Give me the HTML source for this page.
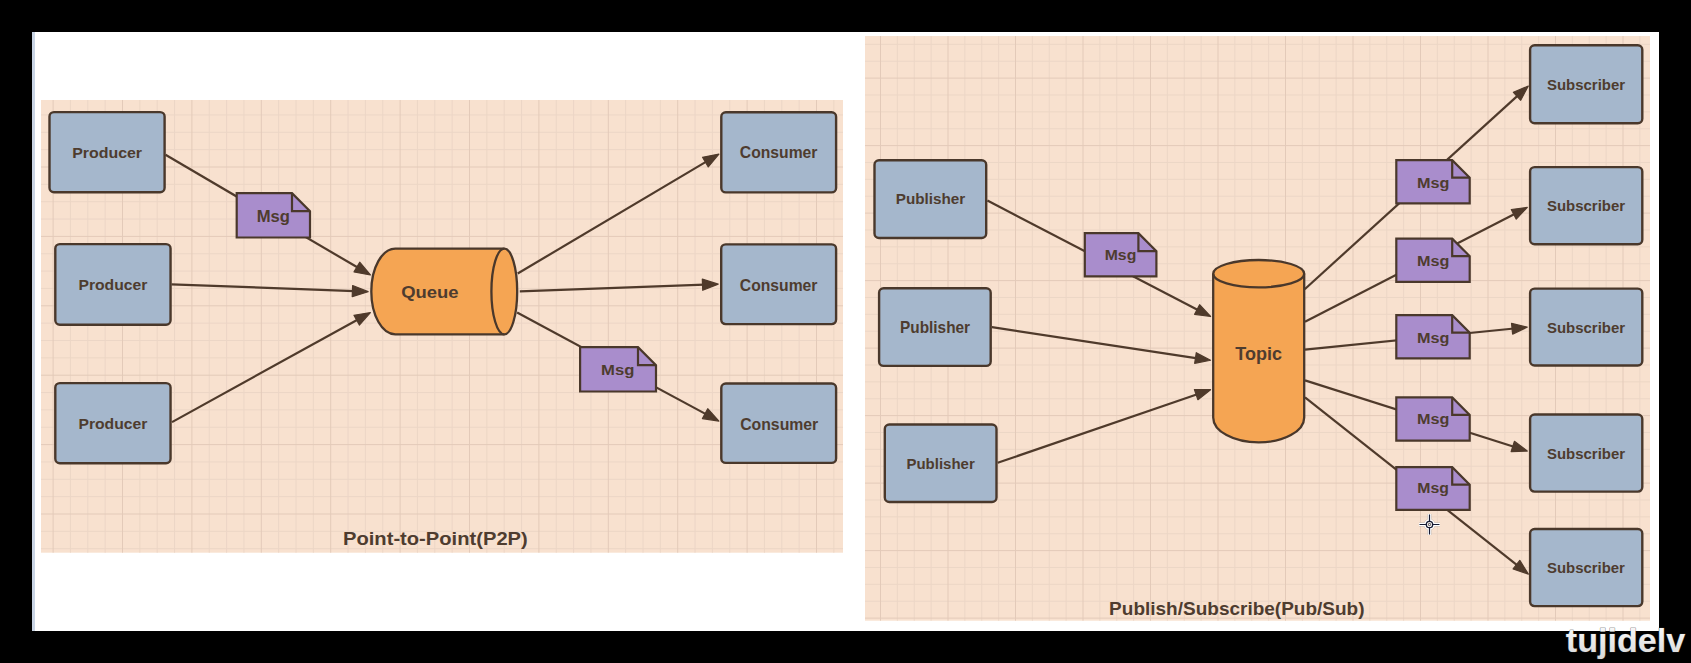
<!DOCTYPE html>
<html><head><meta charset="utf-8"><style>html,body{margin:0;padding:0;background:#000;overflow:hidden}svg{display:block}text{font-family:"Liberation Sans",sans-serif}</style></head>
<body>
<svg width="1691" height="663" viewBox="0 0 1691 663">
<rect x="0" y="0" width="1691" height="663" fill="#000"/>
<rect x="32" y="32" width="1627" height="599" fill="#fff"/>
<rect x="32" y="32" width="3" height="599" fill="#c9d4e4"/>
<rect x="41" y="100" width="802.00" height="452.70" fill="#f8e1cf"/>
<path d="M70.45 100V552.7M87.80 100V552.7M105.15 100V552.7M139.85 100V552.7M157.20 100V552.7M174.55 100V552.7M209.25 100V552.7M226.60 100V552.7M243.95 100V552.7M278.65 100V552.7M296.00 100V552.7M313.35 100V552.7M348.05 100V552.7M365.40 100V552.7M382.75 100V552.7M417.45 100V552.7M434.80 100V552.7M452.15 100V552.7M486.85 100V552.7M504.20 100V552.7M521.55 100V552.7M556.25 100V552.7M573.60 100V552.7M590.95 100V552.7M625.65 100V552.7M643.00 100V552.7M660.35 100V552.7M695.05 100V552.7M712.40 100V552.7M729.75 100V552.7M764.45 100V552.7M781.80 100V552.7M799.15 100V552.7M833.85 100V552.7M41 114.95H843M41 132.30H843M41 149.65H843M41 184.35H843M41 201.70H843M41 219.05H843M41 253.75H843M41 271.10H843M41 288.45H843M41 323.15H843M41 340.50H843M41 357.85H843M41 392.55H843M41 409.90H843M41 427.25H843M41 461.95H843M41 479.30H843M41 496.65H843M41 531.35H843M41 548.70H843" stroke="#ecd6c6" stroke-width="1" fill="none"/>
<path d="M53.10 100V552.7M122.50 100V552.7M191.90 100V552.7M261.30 100V552.7M330.70 100V552.7M400.10 100V552.7M469.50 100V552.7M538.90 100V552.7M608.30 100V552.7M677.70 100V552.7M747.10 100V552.7M816.50 100V552.7M41 167.00H843M41 236.40H843M41 305.80H843M41 375.20H843M41 444.60H843M41 514.00H843" stroke="#e3cab9" stroke-width="1" fill="none"/>
<rect x="865" y="36" width="785.00" height="584.70" fill="#f8e1cf"/>
<path d="M897.38 36V620.7M914.25 36V620.7M931.12 36V620.7M964.88 36V620.7M981.75 36V620.7M998.62 36V620.7M1032.38 36V620.7M1049.25 36V620.7M1066.12 36V620.7M1099.88 36V620.7M1116.75 36V620.7M1133.62 36V620.7M1167.38 36V620.7M1184.25 36V620.7M1201.12 36V620.7M1234.88 36V620.7M1251.75 36V620.7M1268.62 36V620.7M1302.38 36V620.7M1319.25 36V620.7M1336.12 36V620.7M1369.88 36V620.7M1386.75 36V620.7M1403.62 36V620.7M1437.38 36V620.7M1454.25 36V620.7M1471.12 36V620.7M1504.88 36V620.7M1521.75 36V620.7M1538.62 36V620.7M1572.38 36V620.7M1589.25 36V620.7M1606.12 36V620.7M1639.88 36V620.7M865 44.35H1650M865 61.22H1650M865 94.97H1650M865 111.85H1650M865 128.72H1650M865 162.47H1650M865 179.35H1650M865 196.22H1650M865 229.97H1650M865 246.85H1650M865 263.73H1650M865 297.48H1650M865 314.35H1650M865 331.23H1650M865 364.98H1650M865 381.85H1650M865 398.73H1650M865 432.48H1650M865 449.35H1650M865 466.23H1650M865 499.98H1650M865 516.85H1650M865 533.73H1650M865 567.48H1650M865 584.35H1650M865 601.23H1650" stroke="#ecd6c6" stroke-width="1" fill="none"/>
<path d="M880.50 36V620.7M948.00 36V620.7M1015.50 36V620.7M1083.00 36V620.7M1150.50 36V620.7M1218.00 36V620.7M1285.50 36V620.7M1353.00 36V620.7M1420.50 36V620.7M1488.00 36V620.7M1555.50 36V620.7M1623.00 36V620.7M865 78.10H1650M865 145.60H1650M865 213.10H1650M865 280.60H1650M865 348.10H1650M865 415.60H1650M865 483.10H1650M865 550.60H1650M865 618.10H1650" stroke="#e3cab9" stroke-width="1" fill="none"/>
<path d="M165.50 154.80L358.59 268.06" stroke="#4f3a2b" stroke-width="2.2" fill="none"/>
<path d="M370.41 275.00L354.03 271.88L359.70 262.22Z" fill="#4f3a2b" stroke="#4f3a2b" stroke-width="1.2" stroke-linejoin="round"/>
<path d="M171.50 284.30L354.41 291.16" stroke="#4f3a2b" stroke-width="2.2" fill="none"/>
<path d="M368.10 291.67L352.20 296.68L352.62 285.49Z" fill="#4f3a2b" stroke="#4f3a2b" stroke-width="1.2" stroke-linejoin="round"/>
<path d="M172.00 422.10L358.41 319.21" stroke="#4f3a2b" stroke-width="2.2" fill="none"/>
<path d="M370.40 312.59L359.36 325.08L353.95 315.27Z" fill="#4f3a2b" stroke="#4f3a2b" stroke-width="1.2" stroke-linejoin="round"/>
<path d="M517.70 273.50L707.13 161.10" stroke="#4f3a2b" stroke-width="2.2" fill="none"/>
<path d="M718.91 154.11L708.27 166.94L702.55 157.30Z" fill="#4f3a2b" stroke="#4f3a2b" stroke-width="1.2" stroke-linejoin="round"/>
<path d="M519.80 291.40L704.51 284.63" stroke="#4f3a2b" stroke-width="2.2" fill="none"/>
<path d="M718.20 284.13L702.72 290.30L702.31 279.11Z" fill="#4f3a2b" stroke="#4f3a2b" stroke-width="1.2" stroke-linejoin="round"/>
<path d="M517.10 312.50L706.83 414.63" stroke="#4f3a2b" stroke-width="2.2" fill="none"/>
<path d="M718.90 421.12L702.42 418.61L707.73 408.75Z" fill="#4f3a2b" stroke="#4f3a2b" stroke-width="1.2" stroke-linejoin="round"/>
<path d="M987.40 200.60L1198.88 310.45" stroke="#4f3a2b" stroke-width="2.2" fill="none"/>
<path d="M1210.59 316.53L1194.61 314.32L1199.59 304.73Z" fill="#4f3a2b" stroke="#4f3a2b" stroke-width="1.2" stroke-linejoin="round"/>
<path d="M991.90 327.20L1197.46 358.31" stroke="#4f3a2b" stroke-width="2.2" fill="none"/>
<path d="M1210.51 360.28L1194.67 363.35L1196.29 352.67Z" fill="#4f3a2b" stroke="#4f3a2b" stroke-width="1.2" stroke-linejoin="round"/>
<path d="M997.70 462.80L1198.06 393.95" stroke="#4f3a2b" stroke-width="2.2" fill="none"/>
<path d="M1210.54 389.66L1197.92 399.71L1194.41 389.49Z" fill="#4f3a2b" stroke="#4f3a2b" stroke-width="1.2" stroke-linejoin="round"/>
<path d="M1304.70 289.20L1518.54 94.91" stroke="#4f3a2b" stroke-width="2.2" fill="none"/>
<path d="M1528.31 86.04L1520.69 100.26L1513.43 92.26Z" fill="#4f3a2b" stroke="#4f3a2b" stroke-width="1.2" stroke-linejoin="round"/>
<path d="M1305.00 321.80L1515.55 213.41" stroke="#4f3a2b" stroke-width="2.2" fill="none"/>
<path d="M1527.29 207.37L1516.25 219.12L1511.30 209.52Z" fill="#4f3a2b" stroke="#4f3a2b" stroke-width="1.2" stroke-linejoin="round"/>
<path d="M1305.00 349.70L1514.07 328.51" stroke="#4f3a2b" stroke-width="2.2" fill="none"/>
<path d="M1527.20 327.18L1512.63 334.09L1511.54 323.34Z" fill="#4f3a2b" stroke="#4f3a2b" stroke-width="1.2" stroke-linejoin="round"/>
<path d="M1305.00 380.40L1514.66 447.06" stroke="#4f3a2b" stroke-width="2.2" fill="none"/>
<path d="M1527.24 451.06L1511.12 451.60L1514.39 441.31Z" fill="#4f3a2b" stroke="#4f3a2b" stroke-width="1.2" stroke-linejoin="round"/>
<path d="M1305.00 397.30L1518.02 565.91" stroke="#4f3a2b" stroke-width="2.2" fill="none"/>
<path d="M1528.37 574.10L1513.10 568.90L1519.81 560.44Z" fill="#4f3a2b" stroke="#4f3a2b" stroke-width="1.2" stroke-linejoin="round"/>
<rect x="49.50" y="112.10" width="115.10" height="80.20" rx="4.5" fill="#a5b7cc" stroke="#4a382b" stroke-width="2.4"/>
<rect x="55.30" y="244.10" width="115.25" height="80.60" rx="4.5" fill="#a5b7cc" stroke="#4a382b" stroke-width="2.4"/>
<rect x="55.30" y="383.10" width="115.25" height="80.20" rx="4.5" fill="#a5b7cc" stroke="#4a382b" stroke-width="2.4"/>
<rect x="721.30" y="112.20" width="114.80" height="80.20" rx="4.5" fill="#a5b7cc" stroke="#4a382b" stroke-width="2.4"/>
<rect x="721.20" y="244.40" width="114.90" height="79.70" rx="4.5" fill="#a5b7cc" stroke="#4a382b" stroke-width="2.4"/>
<rect x="721.30" y="383.50" width="114.80" height="79.40" rx="4.5" fill="#a5b7cc" stroke="#4a382b" stroke-width="2.4"/>
<rect x="874.50" y="160.30" width="111.70" height="77.70" rx="4.5" fill="#a5b7cc" stroke="#4a382b" stroke-width="2.4"/>
<rect x="879.10" y="288.30" width="111.60" height="77.60" rx="4.5" fill="#a5b7cc" stroke="#4a382b" stroke-width="2.4"/>
<rect x="884.80" y="424.50" width="111.70" height="77.50" rx="4.5" fill="#a5b7cc" stroke="#4a382b" stroke-width="2.4"/>
<rect x="1530.10" y="45.30" width="112.20" height="78.00" rx="4.5" fill="#a5b7cc" stroke="#4a382b" stroke-width="2.4"/>
<rect x="1530.10" y="167.10" width="112.20" height="77.20" rx="4.5" fill="#a5b7cc" stroke="#4a382b" stroke-width="2.4"/>
<rect x="1530.10" y="288.60" width="112.20" height="76.90" rx="4.5" fill="#a5b7cc" stroke="#4a382b" stroke-width="2.4"/>
<rect x="1530.10" y="414.50" width="112.20" height="77.10" rx="4.5" fill="#a5b7cc" stroke="#4a382b" stroke-width="2.4"/>
<rect x="1530.10" y="529.00" width="112.20" height="77.10" rx="4.5" fill="#a5b7cc" stroke="#4a382b" stroke-width="2.4"/>
<path d="M236.70 193.20H292.00L310.00 211.20V237.50H236.70Z" fill="#a98dcc" stroke="#4a382b" stroke-width="2.2" stroke-linejoin="miter"/>
<path d="M292.00 193.20V211.20H310.00" fill="none" stroke="#4a382b" stroke-width="2.2"/>
<path d="M580.10 347.20H638.00L656.00 365.20V391.50H580.10Z" fill="#a98dcc" stroke="#4a382b" stroke-width="2.2" stroke-linejoin="miter"/>
<path d="M638.00 347.20V365.20H656.00" fill="none" stroke="#4a382b" stroke-width="2.2"/>
<path d="M1084.80 233.20H1138.40L1156.40 251.20V276.30H1084.80Z" fill="#a98dcc" stroke="#4a382b" stroke-width="2.2" stroke-linejoin="miter"/>
<path d="M1138.40 233.20V251.20H1156.40" fill="none" stroke="#4a382b" stroke-width="2.2"/>
<path d="M1396.30 160.20H1452.20L1469.70 177.70V203.30H1396.30Z" fill="#a98dcc" stroke="#4a382b" stroke-width="2.2" stroke-linejoin="miter"/>
<path d="M1452.20 160.20V177.70H1469.70" fill="none" stroke="#4a382b" stroke-width="2.2"/>
<path d="M1396.30 238.60H1452.20L1469.70 256.10V281.80H1396.30Z" fill="#a98dcc" stroke="#4a382b" stroke-width="2.2" stroke-linejoin="miter"/>
<path d="M1452.20 238.60V256.10H1469.70" fill="none" stroke="#4a382b" stroke-width="2.2"/>
<path d="M1396.30 315.20H1452.20L1469.70 332.70V358.30H1396.30Z" fill="#a98dcc" stroke="#4a382b" stroke-width="2.2" stroke-linejoin="miter"/>
<path d="M1452.20 315.20V332.70H1469.70" fill="none" stroke="#4a382b" stroke-width="2.2"/>
<path d="M1396.30 397.40H1452.20L1469.70 414.90V440.60H1396.30Z" fill="#a98dcc" stroke="#4a382b" stroke-width="2.2" stroke-linejoin="miter"/>
<path d="M1452.20 397.40V414.90H1469.70" fill="none" stroke="#4a382b" stroke-width="2.2"/>
<path d="M1396.30 467.20H1452.20L1469.70 484.70V509.80H1396.30Z" fill="#a98dcc" stroke="#4a382b" stroke-width="2.2" stroke-linejoin="miter"/>
<path d="M1452.20 467.20V484.70H1469.70" fill="none" stroke="#4a382b" stroke-width="2.2"/>
<path d="M395.3 248.6L504.3 248.6A12.9 42.85 0 0 1 504.3 334.3L395.3 334.3A24 42.85 0 0 1 395.3 248.6Z" fill="#f5a553" stroke="#4a382b" stroke-width="2.3"/>
<path d="M504.3 248.6A12.9 42.85 0 0 0 504.3 334.3" fill="none" stroke="#4a382b" stroke-width="2.3"/>
<path d="M1213.2 273.7A45.5 13.7 0 0 1 1304.2 273.7L1304.2 417.4A45.5 25 0 0 1 1213.2 417.4Z" fill="#f5a553" stroke="#4a382b" stroke-width="2.3"/>
<path d="M1213.2 273.7A45.5 13.7 0 0 0 1304.2 273.7" fill="none" stroke="#4a382b" stroke-width="2.3"/>
<text x="72.16" y="158.00" font-size="15.51" textLength="69.93" lengthAdjust="spacingAndGlyphs" fill="#4e3c2f" font-family="Liberation Sans" font-weight="bold">Producer</text>
<text x="78.41" y="289.70" font-size="15.23" textLength="68.99" lengthAdjust="spacingAndGlyphs" fill="#4e3c2f" font-family="Liberation Sans" font-weight="bold">Producer</text>
<text x="78.41" y="428.90" font-size="15.23" textLength="68.99" lengthAdjust="spacingAndGlyphs" fill="#4e3c2f" font-family="Liberation Sans" font-weight="bold">Producer</text>
<text x="739.86" y="158.10" font-size="15.65" textLength="77.55" lengthAdjust="spacingAndGlyphs" fill="#4e3c2f" font-family="Liberation Sans" font-weight="bold">Consumer</text>
<text x="739.86" y="290.80" font-size="15.65" textLength="77.55" lengthAdjust="spacingAndGlyphs" fill="#4e3c2f" font-family="Liberation Sans" font-weight="bold">Consumer</text>
<text x="740.16" y="429.90" font-size="15.65" textLength="78.09" lengthAdjust="spacingAndGlyphs" fill="#4e3c2f" font-family="Liberation Sans" font-weight="bold">Consumer</text>
<text x="401.24" y="297.90" font-size="16.07" textLength="57.36" lengthAdjust="spacingAndGlyphs" fill="#4e3c2f" font-family="Liberation Sans" font-weight="bold">Queue</text>
<text x="256.68" y="221.70" font-size="15.93" textLength="33.25" lengthAdjust="spacingAndGlyphs" fill="#4e3c2f" font-family="Liberation Sans" font-weight="bold">Msg</text>
<text x="601.08" y="375.40" font-size="15.51" textLength="33.29" lengthAdjust="spacingAndGlyphs" fill="#4e3c2f" font-family="Liberation Sans" font-weight="bold">Msg</text>
<text x="343.01" y="545.40" font-size="18.33" textLength="184.76" lengthAdjust="spacingAndGlyphs" fill="#4e3c2f" font-family="Liberation Sans" font-weight="bold">Point-to-Point(P2P)</text>
<text x="895.73" y="204.40" font-size="15.51" textLength="69.57" lengthAdjust="spacingAndGlyphs" fill="#4e3c2f" font-family="Liberation Sans" font-weight="bold">Publisher</text>
<text x="900.04" y="333.00" font-size="15.79" textLength="70.03" lengthAdjust="spacingAndGlyphs" fill="#4e3c2f" font-family="Liberation Sans" font-weight="bold">Publisher</text>
<text x="906.44" y="468.90" font-size="15.23" textLength="68.30" lengthAdjust="spacingAndGlyphs" fill="#4e3c2f" font-family="Liberation Sans" font-weight="bold">Publisher</text>
<text x="1547.02" y="89.60" font-size="14.66" textLength="78.04" lengthAdjust="spacingAndGlyphs" fill="#4e3c2f" font-family="Liberation Sans" font-weight="bold">Subscriber</text>
<text x="1547.02" y="211.10" font-size="14.66" textLength="78.04" lengthAdjust="spacingAndGlyphs" fill="#4e3c2f" font-family="Liberation Sans" font-weight="bold">Subscriber</text>
<text x="1547.02" y="332.60" font-size="14.66" textLength="78.04" lengthAdjust="spacingAndGlyphs" fill="#4e3c2f" font-family="Liberation Sans" font-weight="bold">Subscriber</text>
<text x="1547.03" y="458.50" font-size="14.80" textLength="78.02" lengthAdjust="spacingAndGlyphs" fill="#4e3c2f" font-family="Liberation Sans" font-weight="bold">Subscriber</text>
<text x="1547.06" y="573.10" font-size="14.24" textLength="77.86" lengthAdjust="spacingAndGlyphs" fill="#4e3c2f" font-family="Liberation Sans" font-weight="bold">Subscriber</text>
<text x="1235.30" y="360.10" font-size="17.76" textLength="46.64" lengthAdjust="spacingAndGlyphs" fill="#4e3c2f" font-family="Liberation Sans" font-weight="bold">Topic</text>
<text x="1104.69" y="260.40" font-size="14.80" textLength="31.61" lengthAdjust="spacingAndGlyphs" fill="#4e3c2f" font-family="Liberation Sans" font-weight="bold">Msg</text>
<text x="1417.13" y="187.70" font-size="15.09" textLength="32.41" lengthAdjust="spacingAndGlyphs" fill="#4e3c2f" font-family="Liberation Sans" font-weight="bold">Msg</text>
<text x="1417.14" y="266.40" font-size="15.23" textLength="32.37" lengthAdjust="spacingAndGlyphs" fill="#4e3c2f" font-family="Liberation Sans" font-weight="bold">Msg</text>
<text x="1417.13" y="342.70" font-size="15.09" textLength="32.41" lengthAdjust="spacingAndGlyphs" fill="#4e3c2f" font-family="Liberation Sans" font-weight="bold">Msg</text>
<text x="1417.14" y="423.70" font-size="15.23" textLength="32.37" lengthAdjust="spacingAndGlyphs" fill="#4e3c2f" font-family="Liberation Sans" font-weight="bold">Msg</text>
<text x="1417.37" y="493.40" font-size="14.94" textLength="31.61" lengthAdjust="spacingAndGlyphs" fill="#4e3c2f" font-family="Liberation Sans" font-weight="bold">Msg</text>
<text x="1109.13" y="614.80" font-size="17.48" textLength="255.40" lengthAdjust="spacingAndGlyphs" fill="#4e3c2f" font-family="Liberation Sans" font-weight="bold">Publish/Subscribe(Pub/Sub)</text>
<g>
<path d="M1419.0 524.5H1425.9M1433.1 524.5H1440.0M1429.5 514.0V520.9M1429.5 528.1V535.0" stroke="#5b4a40" stroke-opacity="0.3" stroke-width="4.4"/>
<circle cx="1429.5" cy="524.5" r="3.6" fill="none" stroke="#5b4a40" stroke-opacity="0.3" stroke-width="4.4"/>
<path d="M1419.0 524.5H1425.9M1433.1 524.5H1440.0M1429.5 514.0V520.9M1429.5 528.1V535.0" stroke="#fff" stroke-width="3.6"/>
<circle cx="1429.5" cy="524.5" r="3.6" fill="none" stroke="#fff" stroke-width="3.6"/>
<path d="M1419.5 524.5H1426.5M1432.5 524.5H1439.5M1429.5 514.5V521.5M1429.5 527.5V534.5" stroke="#161b33" stroke-width="1.2"/>
<circle cx="1429.5" cy="524.5" r="3.2" fill="none" stroke="#161b33" stroke-width="1.3"/>
<circle cx="1429.5" cy="524.5" r="1.1" fill="#fff" stroke="#161b33" stroke-width="0.7"/>
</g>
<defs><linearGradient id="wg" x1="0" y1="0" x2="0" y2="1"><stop offset="0" stop-color="#ffffff"/><stop offset="1" stop-color="#d8d8d8"/></linearGradient></defs>
<text x="1565.80" y="651.80" font-size="34.00" textLength="119.50" lengthAdjust="spacingAndGlyphs" fill="url(#wg)" stroke="#333" stroke-width="0.6" paint-order="stroke" font-family="Liberation Sans" font-weight="bold">tujidelv</text>
</svg>
</body></html>
